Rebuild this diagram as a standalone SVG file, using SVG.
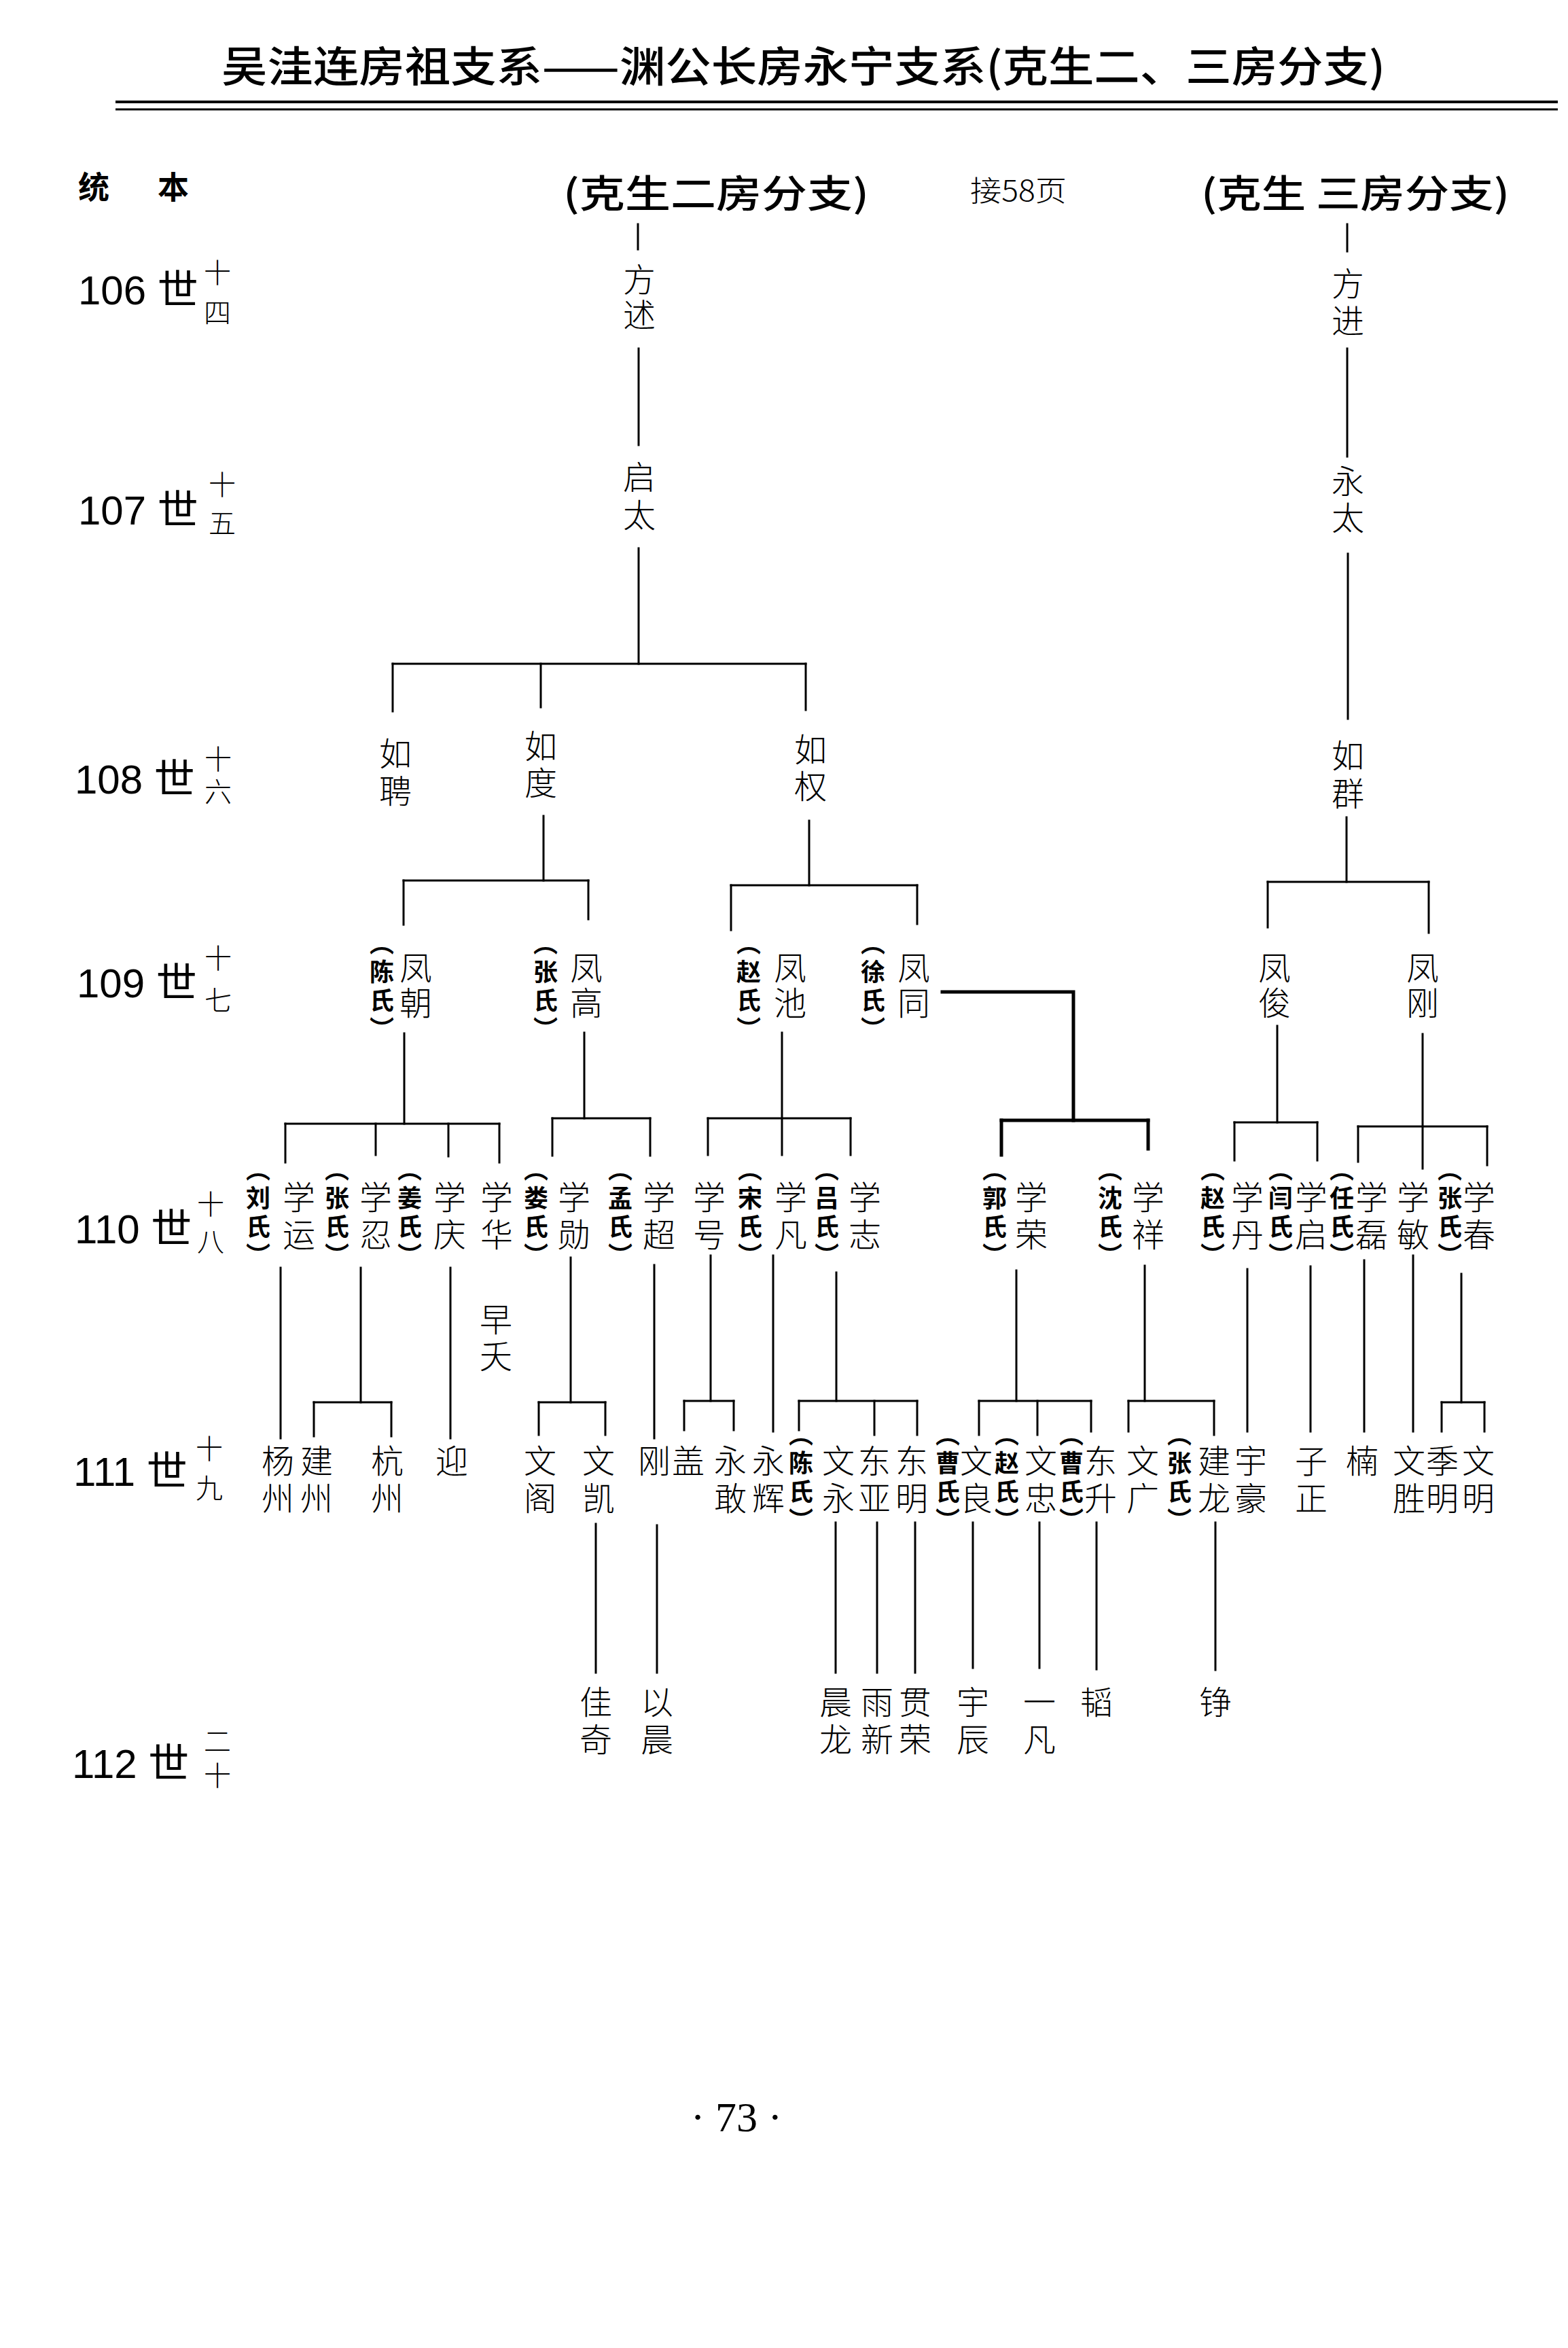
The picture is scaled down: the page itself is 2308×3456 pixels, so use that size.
<svg xmlns="http://www.w3.org/2000/svg" width="2308" height="3456" viewBox="0 0 2308 3456">
<style>
.bg{fill:#fff}
.c path{stroke:#000;stroke-width:3;fill:none;stroke-linecap:square}
.c path.t{stroke-width:5}
.v{writing-mode:vertical-rl;text-orientation:mixed;fill:#000}
.n{font-family:"Noto Sans CJK SC","Noto Sans CJK TC",sans-serif;font-size:48px;font-weight:300}
.s{font-family:"Noto Sans CJK SC","Noto Sans CJK TC",sans-serif;font-size:36px;font-weight:700;letter-spacing:6px}
.gs{font-family:"Noto Sans CJK SC",sans-serif;font-size:40px;font-weight:300}
.g{font-family:"Liberation Sans","Noto Sans CJK SC",sans-serif;font-size:60px;fill:#000}
.h{font-family:"Noto Sans CJK SC",sans-serif;font-weight:500;fill:#000}
.l4{letter-spacing:4px}.l6{letter-spacing:6px}.l7{letter-spacing:7px}.l8{letter-spacing:8px}
</style>
<rect class="bg" x="0" y="0" width="2308" height="3456"/>

<g id="header">
<text class="h" x="326" y="121" font-size="62" textLength="1713" lengthAdjust="spacingAndGlyphs">吴洼连房祖支系——渊公长房永宁支系(克生二、三房分支)</text>
<path d="M170 150H2293" stroke="#000" stroke-width="4"/>
<path d="M170 161H2293" stroke="#000" stroke-width="3"/>
<text x="115" y="292" font-family="Noto Sans CJK SC,sans-serif" font-size="46" font-weight="700">统</text>
<text x="232" y="292" font-family="Noto Sans CJK SC,sans-serif" font-size="46" font-weight="700">本</text>
</g>

<g id="heading-2"><text class="h" x="829" y="305" font-size="56" textLength="450" lengthAdjust="spacingAndGlyphs">(克生二房分支)</text></g>
<g id="note-58"><text x="1428" y="296" font-family="Noto Sans CJK SC,sans-serif" font-size="42" font-weight="300" textLength="142" lengthAdjust="spacingAndGlyphs">接58页</text></g>
<g id="heading-3"><text class="h" x="1768" y="305" font-size="56" textLength="454" lengthAdjust="spacingAndGlyphs">(克生 三房分支)</text></g>

<g id="generations">
<text class="g" x="115" y="448">106 世</text>
<text class="v gs" x="320" y="381" letter-spacing="19">十四</text>
<text class="g" x="115" y="772">107 世</text>
<text class="v gs" x="327" y="693" letter-spacing="17">十五</text>
<text class="g" x="110" y="1168">108 世</text>
<text class="v gs" x="321" y="1097" letter-spacing="8">十六</text>
<text class="g" x="113" y="1468">109 世</text>
<text class="v gs" x="321" y="1390" letter-spacing="22">十七</text>
<text class="g" x="110" y="1830">110 世</text>
<text class="v gs" x="310" y="1752" letter-spacing="15">十八</text>
<text class="g" x="108" y="2187">111 世</text>
<text class="v gs" x="308" y="2112" letter-spacing="18">十九</text>
<text class="g" x="106" y="2617">112 世</text>
<text class="v gs" x="320" y="2543" letter-spacing="10">二十</text>
</g>

<g class="c" id="connectors">
<path d="M939 330V367"/>
<path d="M940 513V655"/>
<path d="M940 807V977"/>
<path d="M578 977H1186"/>
<path d="M578 977V1047"/>
<path d="M796 977V1041"/>
<path d="M1186 977V1045"/>
<path d="M800 1201V1296"/>
<path d="M594 1296H866"/>
<path d="M594 1296V1361"/>
<path d="M866 1296V1353"/>
<path d="M1191 1208V1303"/>
<path d="M1076 1303H1350"/>
<path d="M1076 1303V1369"/>
<path d="M1350 1303V1360"/>
<path d="M1983 330V370"/>
<path d="M1983 513V672"/>
<path d="M1984 815V1058"/>
<path d="M1982 1203V1298"/>
<path d="M1866 1298H2103"/>
<path d="M1866 1298V1365"/>
<path d="M2103 1298V1373"/>

<path d="M595 1521V1654"/>
<path d="M420 1654H735"/>
<path d="M420 1654V1711"/>
<path d="M553 1654V1700"/>
<path d="M660 1654V1702"/>
<path d="M735 1654V1711"/>
<path d="M860 1520V1646"/>
<path d="M813 1646H957"/>
<path d="M813 1646V1701"/>
<path d="M957 1646V1701"/>
<path d="M1151 1520V1700"/>
<path d="M1042 1646H1252"/>
<path d="M1042 1646V1700"/>
<path d="M1252 1646V1700"/>
<path class="t" d="M1387 1460H1580V1649"/>
<path class="t" d="M1474 1649H1690"/>
<path class="t" d="M1474 1649V1700"/>
<path class="t" d="M1690 1649V1691"/>
<path d="M1880 1510V1652"/>
<path d="M1817 1652H1939"/>
<path d="M1817 1652V1708"/>
<path d="M1939 1652V1708"/>
<path d="M2094 1522V1720"/>
<path d="M1999 1658H2189"/>
<path d="M1999 1658V1710"/>
<path d="M2189 1658V1715"/>

<path d="M413 1866V2117"/>
<path d="M531 1866V2064"/>
<path d="M462 2064H576"/>
<path d="M462 2064V2114"/>
<path d="M576 2064V2114"/>
<path d="M663 1866V2117"/>
<path d="M840 1851V2064"/>
<path d="M793 2064H891"/>
<path d="M793 2064V2112"/>
<path d="M891 2064V2112"/>
<path d="M963 1862V2117"/>
<path d="M1046 1848V2062"/>
<path d="M1007 2062H1080"/>
<path d="M1007 2062V2105"/>
<path d="M1080 2062V2105"/>
<path d="M1138 1848V2107"/>
<path d="M1231 1873V2062"/>
<path d="M1176 2062H1350"/>
<path d="M1176 2062V2105"/>
<path d="M1287 2062V2112"/>
<path d="M1350 2062V2112"/>
<path d="M1496 1870V2062"/>
<path d="M1441 2062H1606"/>
<path d="M1441 2062V2112"/>
<path d="M1527 2062V2112"/>
<path d="M1606 2062V2107"/>
<path d="M1685 1863V2062"/>
<path d="M1661 2062H1787"/>
<path d="M1661 2062V2107"/>
<path d="M1787 2062V2112"/>
<path d="M1836 1868V2107"/>
<path d="M1929 1864V2107"/>
<path d="M2008 1855V2107"/>
<path d="M2080 1848V2107"/>
<path d="M2151 1875V2064"/>
<path d="M2122 2064H2185"/>
<path d="M2122 2064V2107"/>
<path d="M2185 2064V2107"/>

<path d="M877 2243V2462"/>
<path d="M967 2245V2462"/>
<path d="M1230 2241V2462"/>
<path d="M1291 2241V2462"/>
<path d="M1347 2241V2462"/>
<path d="M1432 2241V2455"/>
<path d="M1530 2241V2455"/>
<path d="M1614 2241V2457"/>
<path d="M1789 2241V2458"/>
</g>

<!-- 106 / 107 -->
<g id="n-fangshu"><text class="v n l4" x="941" y="387">方述</text></g>
<g id="n-fangjin"><text class="v n l7" x="1984" y="393">方进</text></g>
<g id="n-qitai"><text class="v n l8" x="941" y="678">启太</text></g>
<g id="n-yongtai"><text class="v n l6" x="1984" y="684">永太</text></g>

<!-- 108 -->
<g id="n-rupin"><text class="v n l7" x="582" y="1085">如聘</text></g>
<g id="n-rudu"><text class="v n l6" x="796" y="1074">如度</text></g>
<g id="n-ruquan"><text class="v n l6" x="1193" y="1079">如权</text></g>
<g id="n-ruqun"><text class="v n l8" x="1984" y="1088">如群</text></g>

<!-- 109 -->
<g id="n-fengchao"><text class="v s" x="562" y="1370">（陈氏）</text><text class="v n l4" x="612" y="1400">凤朝</text></g>
<g id="n-fenggao"><text class="v s" x="803" y="1370">（张氏）</text><text class="v n l4" x="863" y="1400">凤高</text></g>
<g id="n-fengchi"><text class="v s" x="1102" y="1370">（赵氏）</text><text class="v n l4" x="1163" y="1400">凤池</text></g>
<g id="n-fengtong"><text class="v s" x="1285" y="1370">（徐氏）</text><text class="v n l4" x="1345" y="1400">凤同</text></g>
<g id="n-fengjun"><text class="v n l4" x="1876" y="1400">凤俊</text></g>
<g id="n-fenggang"><text class="v n l4" x="2094" y="1400">凤刚</text></g>

<!-- 110 -->
<g id="n-xueyun"><text class="v s" x="380" y="1703">（刘氏）</text><text class="v n l7" x="440" y="1738">学运</text></g>
<g id="n-xueren"><text class="v s" x="496" y="1703">（张氏）</text><text class="v n l7" x="553" y="1738">学忍</text></g>
<g id="n-xueqing"><text class="v s" x="603" y="1703">（姜氏）</text><text class="v n l7" x="662" y="1738">学庆</text></g>
<g id="n-xuehua"><text class="v n l7" x="731" y="1738">学华</text></g>
<g id="n-zaoyao"><text class="v n l6" x="730" y="1918">早夭</text></g>
<g id="n-xuexun"><text class="v s" x="789" y="1703">（娄氏）</text><text class="v n l7" x="845" y="1738">学勋</text></g>
<g id="n-xuechao"><text class="v s" x="913" y="1703">（孟氏）</text><text class="v n l7" x="970" y="1738">学超</text></g>
<g id="n-xuehao"><text class="v n l7" x="1044" y="1738">学号</text></g>
<g id="n-xuefan"><text class="v s" x="1104" y="1703">（宋氏）</text><text class="v n l7" x="1164" y="1738">学凡</text></g>
<g id="n-xuezhi"><text class="v s" x="1217" y="1703">（吕氏）</text><text class="v n l7" x="1273" y="1738">学志</text></g>
<g id="n-xuerong"><text class="v s" x="1464" y="1703">（郭氏）</text><text class="v n l7" x="1518" y="1738">学荣</text></g>
<g id="n-xuexiang"><text class="v s" x="1634" y="1703">（沈氏）</text><text class="v n l7" x="1690" y="1738">学祥</text></g>
<g id="n-xuedan"><text class="v s" x="1785" y="1703">（赵氏）</text><text class="v n l7" x="1836" y="1738">学丹</text></g>
<g id="n-xueqi"><text class="v s" x="1885" y="1703">（闫氏）</text><text class="v n l7" x="1930" y="1738">学启</text></g>
<g id="n-xuelei"><text class="v s" x="1975" y="1703">（任氏）</text><text class="v n l7" x="2019" y="1738">学磊</text></g>
<g id="n-xuemin"><text class="v n l7" x="2080" y="1738">学敏</text></g>
<g id="n-xuechun"><text class="v s" x="2134" y="1703">（张氏）</text><text class="v n l7" x="2177" y="1738">学春</text></g>

<!-- 111 -->
<g id="n-yangzhou"><text class="v n l7" x="409" y="2126">杨州</text></g>
<g id="n-jianzhou"><text class="v n l7" x="466" y="2126">建州</text></g>
<g id="n-hangzhou"><text class="v n l7" x="570" y="2126">杭州</text></g>
<g id="n-ying"><text class="v n" x="665" y="2126">迎</text></g>
<g id="n-wenge"><text class="v n l7" x="795" y="2126">文阁</text></g>
<g id="n-wenkai"><text class="v n l7" x="881" y="2126">文凯</text></g>
<g id="n-gang"><text class="v n" x="963" y="2126">刚</text></g>
<g id="n-gai"><text class="v n" x="1013" y="2126">盖</text></g>
<g id="n-yonggan"><text class="v n l7" x="1075" y="2126">永敢</text></g>
<g id="n-yonghui"><text class="v n l7" x="1131" y="2126">永辉</text></g>
<g id="n-wenyong"><text class="v s" x="1179" y="2093">（陈氏）</text><text class="v n l7" x="1234" y="2126">文永</text></g>
<g id="n-dongya"><text class="v n l7" x="1287" y="2126">东亚</text></g>
<g id="n-dongming"><text class="v n l7" x="1342" y="2126">东明</text></g>
<g id="n-wenliang"><text class="v s" x="1395" y="2093">（曹氏）</text><text class="v n l7" x="1437" y="2126">文良</text></g>
<g id="n-wenzhong"><text class="v s" x="1482" y="2093">（赵氏）</text><text class="v n l7" x="1532" y="2126">文忠</text></g>
<g id="n-dongsheng"><text class="v s" x="1577" y="2093">（曹氏）</text><text class="v n l7" x="1620" y="2126">东升</text></g>
<g id="n-wenguang"><text class="v n l7" x="1682" y="2126">文广</text></g>
<g id="n-jianlong"><text class="v s" x="1736" y="2093">（张氏）</text><text class="v n l7" x="1787" y="2126">建龙</text></g>
<g id="n-yuhao"><text class="v n l7" x="1841" y="2126">宇豪</text></g>
<g id="n-zizheng"><text class="v n l7" x="1930" y="2126">子正</text></g>
<g id="n-nan"><text class="v n" x="2005" y="2126">楠</text></g>
<g id="n-wensheng"><text class="v n l7" x="2074" y="2126">文胜</text></g>
<g id="n-jiming"><text class="v n l7" x="2123" y="2126">季明</text></g>
<g id="n-wenming"><text class="v n l7" x="2176" y="2126">文明</text></g>

<!-- 112 -->
<g id="n-jiaqi"><text class="v n l7" x="877" y="2481">佳奇</text></g>
<g id="n-yichen"><text class="v n l7" x="967" y="2481">以晨</text></g>
<g id="n-chenlong"><text class="v n l7" x="1230" y="2481">晨龙</text></g>
<g id="n-yuxin"><text class="v n l7" x="1291" y="2481">雨新</text></g>
<g id="n-guanrong"><text class="v n l7" x="1347" y="2481">贯荣</text></g>
<g id="n-yuchen"><text class="v n l7" x="1432" y="2481">宇辰</text></g>
<g id="n-yifan"><text class="v n l7" x="1530" y="2481">一凡</text></g>
<g id="n-tao"><text class="v n" x="1614" y="2481">韬</text></g>
<g id="n-zheng"><text class="v n" x="1789" y="2481">铮</text></g>

<g id="page-number"><text x="1084" y="3137" font-family="Liberation Serif,serif" font-size="62" text-anchor="middle">· 73 ·</text></g>
</svg>
